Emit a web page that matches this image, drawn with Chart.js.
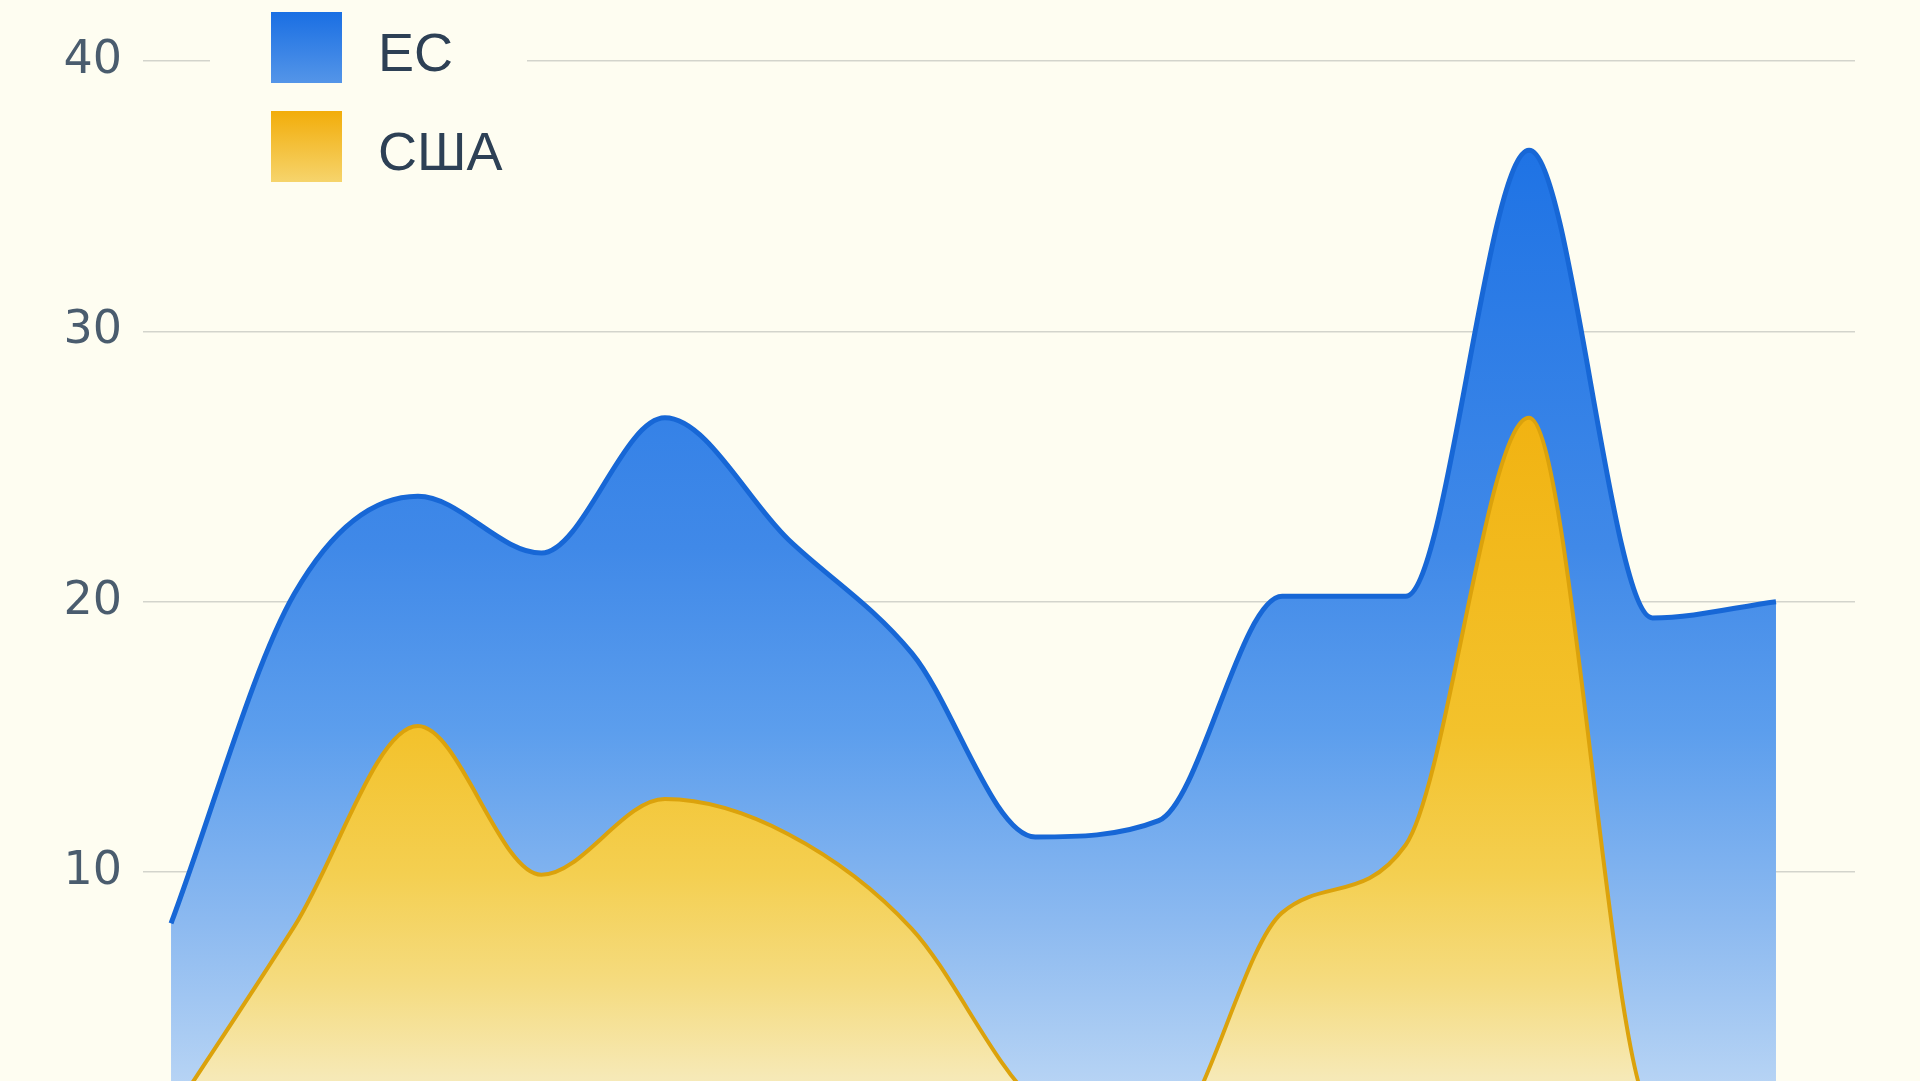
<!DOCTYPE html>
<html lang="ru">
<head>
<meta charset="utf-8">
<title>ЕС и США</title>
<script src="https://cdn.jsdelivr.net/npm/chart.js@4.4.1/dist/chart.umd.min.js"></script>
<style>
  html, body { margin: 0; padding: 0; background: #fefdf1; overflow: hidden; }
  #wrap { position: relative; width: 1920px; height: 1191px; }
  #legend { position: absolute; left: 210px; top: 0; width: 317px; height: 200px; background: #fefdf1; }
  .item { position: absolute; left: 61px; height: 71px; display: flex; align-items: center; }
  .box { width: 71px; height: 71px; }
  .lbl { margin-left: 36px; padding-top: 8px; font: 54px "Liberation Sans", Arial, sans-serif; color: #2d4055; }
</style>
</head>
<body>
<div id="wrap">
  <canvas id="chart"></canvas>
  <div id="legend"></div>
</div>
<script>
// ============================
//  DATA
// ============================

const points   = [0, 1, 2, 3, 4, 5, 6, 7, 8, 9, 10, 11, 12, 13];
const euValues = [8.1, 20.3, 23.9, 21.8, 26.8, 22.3, 18.1, 11.3, 11.9, 20.2, 20.2, 36.7, 19.4, 20.0];
const usValues = [1.0, 8.0, 15.4, 9.9, 12.7, 11.4, 7.9, 1.5, 0, 8.5, 11.0, 26.8, 1.0, 0];
const yTicks   = [0, 10, 20, 30, 40];
const seriesNames = ['ЕС', 'США'];

// цвета
const euStops = [[0, '#176ee4'], [0.45, '#4089e8'], [0.62, '#5c9eed'], [0.8, '#8dbaf0'], [1, '#c6ddf6']];
const usStops = [[0, '#f0a800'], [0.31, '#f1b210'], [0.62, '#f3c22c'], [0.75, '#f4cf50'], [0.85, '#f5db7e'], [0.94, '#f6e9b6'], [1, '#f7efc8']];
const legendBoxes = ['linear-gradient(#1a6fe3, #5495e8)', 'linear-gradient(#f2ad0a, #f6d46c)'];

function gradient(stops) {
    return (c) => {
        const area = c.chart.chartArea;
        if (!area) return stops[0][1];
        const g = c.chart.ctx.createLinearGradient(0, area.top, 0, area.bottom);
        stops.forEach(s => g.addColorStop(s[0], s[1]));
        return g;
    };
}

// легенда в html
const htmlLegend = {
    id: 'htmlLegend',
    afterUpdate(chart) {
        const el = document.getElementById('legend');
        el.innerHTML = '';
        chart.data.datasets.forEach((ds, i) => {
            const item = document.createElement('div');
            item.className = 'item';
            item.style.top = (12 + i * 99) + 'px';
            const box = document.createElement('div');
            box.className = 'box';
            box.style.background = legendBoxes[i];
            const lbl = document.createElement('span');
            lbl.className = 'lbl';
            lbl.textContent = ds.label;
            item.appendChild(box);
            item.appendChild(lbl);
            el.appendChild(item);
        });
    }
};

const ctx = document.getElementById('chart').getContext('2d');

new Chart(ctx, {
    type: 'line',
    data: {
        datasets: [{
            label: seriesNames[0],
            data: points.map((x, i) => ({ x: x, y: euValues[i] })),
            borderColor: '#1767d6',
            borderWidth: 5,
            backgroundColor: gradient(euStops),
            fill: 'origin',
            order: 1
        }, {
            label: seriesNames[1],
            data: points.map((x, i) => ({ x: x, y: usValues[i] })),
            borderColor: '#dba20c',
            borderWidth: 4,
            backgroundColor: gradient(usStops),
            fill: 'origin',
            order: 0
        }]
    },
    options: {
        responsive: true,
        maintainAspectRatio: false,
        animation: false,
        cubicInterpolationMode: 'monotone',
        elements: { point: { radius: 0 } },
        layout: { padding: { top: 61, right: 65, left: 0, bottom: 0 } },
        plugins: {
            legend: { display: false },
            tooltip: { enabled: false }
        },
        scales: {
            x: {
                type: 'linear',
                min: -0.227,
                max: 13.64,
                display: false
            },
            y: {
                min: 0,
                max: 40,
                z: 1,
                afterFit: (s) => { s.width = 143; },
                afterBuildTicks: (s) => { s.ticks = yTicks.map(v => ({ value: v })); },
                border: { display: false },
                grid: { color: 'rgba(40,50,60,0.2)', lineWidth: 1.5, drawTicks: false },
                ticks: {
                    padding: 21,
                    color: '#4a5c6e',
                    font: { family: '"DejaVu Sans", sans-serif', size: 46 }
                }
            }
        }
    },
    plugins: [htmlLegend]
});
</script>
</body>
</html>
